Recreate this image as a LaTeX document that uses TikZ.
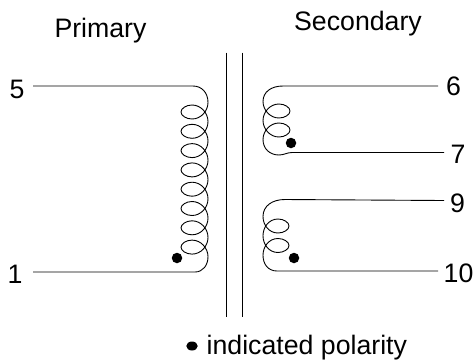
\documentclass[tikz,border=0pt]{standalone}
\usepackage{fontspec}
\usetikzlibrary{shapes.geometric}
\setmainfont{Liberation Sans}
\begin{document}
\begin{tikzpicture}[x=1pt,y=-1pt,
  wire/.style={line width=0.9pt,black,line join=round},
  lbl/.style={font=\fontsize{26.7}{30}\selectfont,inner sep=0pt,text=black,anchor=base},
  pol/.style={ellipse,fill=black,draw=none,inner sep=0pt,minimum width=#1,minimum height=#1},
  legdot/.style={ellipse,fill=black,draw=none,inner sep=0pt,minimum width=11.5pt,minimum height=9pt}]
\useasboundingbox[fill=white] (0,0) rectangle (476,360);
% labels
\node[lbl] (prim) at (100.5,37) {Primary};
\node[lbl] (sec) at (358,30) {Secondary};
\node[lbl] (t5) at (17,98) {5};
\node[lbl] (t1) at (15,283) {1};
\node[lbl] (t6) at (453.5,95) {6};
\node[lbl] (t7) at (458,163) {7};
\node[lbl] (t9) at (457.5,212) {9};
\node[lbl] (t10) at (458.5,282) {10};
\node[lbl,anchor=base west] (legend) at (206.5,354) {indicated polarity};
\node[legdot] (dl) at (192,346) {};
% core
\coordinate (c1a) at (226.6,52.5); \coordinate (c1b) at (226.6,317);
\coordinate (c2a) at (242.6,52.5); \coordinate (c2b) at (242.6,317);
\draw[wire] (c1a) -- (c1b);
\draw[wire] (c2a) -- (c2b);
% terminal ends
\coordinate (a5) at (33,86); \coordinate (a1) at (33,272);
\coordinate (a6) at (438,86); \coordinate (a7) at (444,152.5);
\coordinate (a9) at (444,200.5); \coordinate (a10) at (438,271);
% primary winding
\draw[wire] (a5) -- (193,86) .. controls (202,86) and (208,93) .. (208,102.4)
  \foreach \k [evaluate=\k as \y using 112+19.3*\k] in {0,...,7} {
    .. controls (208,\y-1) and (201,\y+7) .. (192,\y+7)
    .. controls (186,\y+7) and (181,\y+3.5) .. (181,\y)
    .. controls (181,\y-3.5) and (186,\y-7) .. (192,\y-7)
    .. controls (201,\y-7) and (208,\y+1) .. (208,\y+9.65)
  }
  .. controls (208,265) and (203,272) .. (195,272) -- (a1);
% secondary upper
\draw[wire] (a6) -- (283,86) .. controls (271,86) and (263,92) .. (263,101.5)
  \foreach \k [evaluate=\k as \y using 111+19*\k] in {0,1} {
    .. controls (263,\y-1) and (270,\y+7) .. (279,\y+7)
    .. controls (285,\y+7) and (290,\y+3.5) .. (290,\y)
    .. controls (290,\y-3.5) and (285,\y-7) .. (279,\y-7)
    .. controls (270,\y-7) and (263,\y+1) .. (263,\y+9.5)
  }
  .. controls (263,149) and (270,155) .. (279,155) .. controls (284,155) and (287,152.5) .. (292,152.5) -- (a7);
% secondary lower
\draw[wire] (a9) -- (285,199.5) .. controls (272,199.5) and (263,206) .. (263,216.5)
  \foreach \k [evaluate=\k as \y using 226+19.5*\k] in {0,1} {
    .. controls (263,\y-1) and (269,\y+7) .. (278,\y+7)
    .. controls (284,\y+7) and (289,\y+3.5) .. (289,\y)
    .. controls (289,\y-3.5) and (284,\y-7) .. (278,\y-7)
    .. controls (269,\y-7) and (263,\y+1) .. (263,\y+9.75)
  }
  .. controls (263,264) and (268,271) .. (277,271) -- (a10);
% polarity dots
\node[pol=10.5pt] (d1) at (177,258) {};
\node[pol=10.5pt] (d2) at (291,143) {};
\node[pol=10.5pt] (d3) at (294,258) {};
\end{tikzpicture}
\end{document}
